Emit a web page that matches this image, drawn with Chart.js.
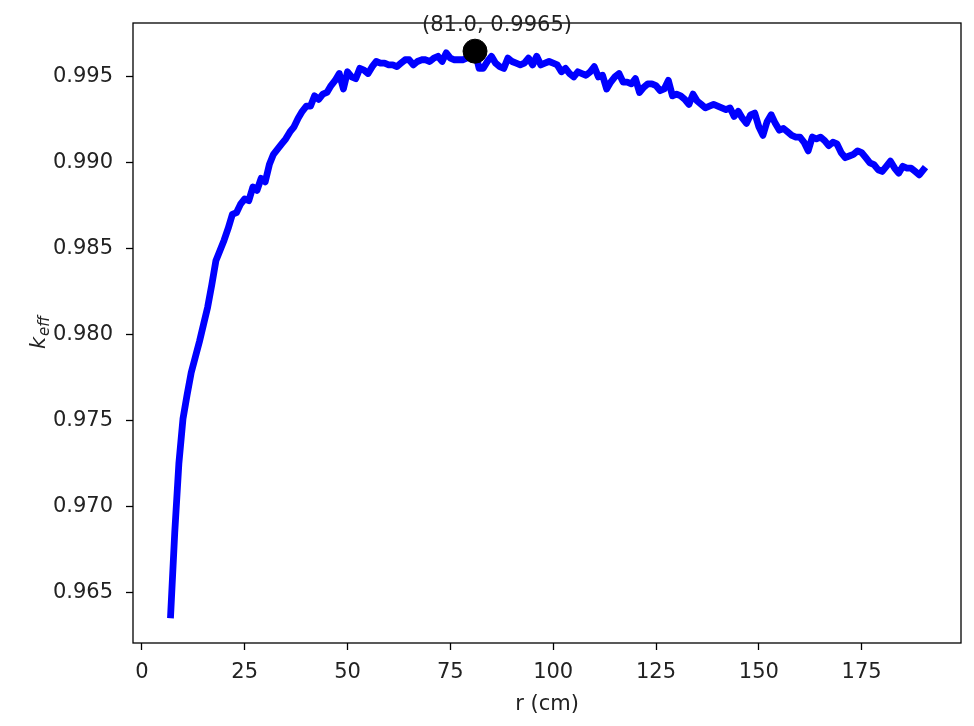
<!DOCTYPE html>
<html>
<head>
<meta charset="utf-8">
<script src="https://cdn.jsdelivr.net/npm/chart.js@4.4.1/dist/chart.umd.min.js"></script>
<style>
  html, body { margin: 0; padding: 0; background: #fff; }
  canvas { display: block; }
</style>
</head>
<body>
<canvas id="keffChart" width="974" height="726"></canvas>
<script>
// radius (cm) and k_eff values
const rValues = [
  7, 8, 9, 10, 11, 12, 13, 14, 15, 16, 17, 18, 19, 20, 21, 22, 23, 24, 25, 26,
  27, 28, 29, 30, 31, 32, 33, 34, 35, 36, 37, 38, 39, 40, 41, 42, 43, 44, 45, 46,
  47, 48, 49, 50, 51, 52, 53, 54, 55, 56, 57, 58, 59, 60, 61, 62, 63, 64, 65, 66,
  67, 68, 69, 70, 71, 72, 73, 74, 75, 76, 77, 78, 79, 80, 81, 82, 83, 84, 85, 86,
  87, 88, 89, 90, 91, 92, 93, 94, 95, 96, 97, 98, 99, 100, 101, 102, 103, 104, 105, 106,
  107, 108, 109, 110, 111, 112, 113, 114, 115, 116, 117, 118, 119, 120, 121, 122, 123, 124, 125, 126,
  127, 128, 129, 130, 131, 132, 133, 134, 135, 136, 137, 138, 139, 140, 141, 142, 143, 144, 145, 146,
  147, 148, 149, 150, 151, 152, 153, 154, 155, 156, 157, 158, 159, 160, 161, 162, 163, 164, 165, 166,
  167, 168, 169, 170, 171, 172, 173, 174, 175, 176, 177, 178, 179, 180, 181, 182, 183, 184, 185, 186,
  187, 188, 189, 190
];
const keffValues = [
  0.9637, 0.9685, 0.9725, 0.9751, 0.9765, 0.9778, 0.9787, 0.9796, 0.9806, 0.9816,
  0.9829, 0.9843, 0.9849, 0.9855, 0.9862, 0.9870, 0.9871, 0.9876, 0.9879, 0.9878,
  0.9886, 0.9884, 0.9891, 0.9889, 0.9899, 0.9905, 0.9908, 0.9911, 0.9914, 0.9918,
  0.9921, 0.9926, 0.9930, 0.9933, 0.9933, 0.9939, 0.9937, 0.9940, 0.9941, 0.9945,
  0.9948, 0.9952, 0.9943, 0.9953, 0.9950, 0.9949, 0.9955, 0.9954, 0.9952, 0.9956,
  0.9959, 0.9958, 0.9958, 0.9957, 0.9957, 0.9956, 0.9958, 0.9960, 0.9960, 0.9957,
  0.9959, 0.9960, 0.9960, 0.9959, 0.9961, 0.9962, 0.9959, 0.9964, 0.9961, 0.9960,
  0.9960, 0.9960, 0.9961, 0.9962, 0.9965, 0.9955, 0.9955, 0.9959, 0.9962, 0.9958,
  0.9956, 0.9955, 0.9961, 0.9959, 0.9958, 0.9957, 0.9958, 0.9961, 0.9957, 0.9962,
  0.9957, 0.9958, 0.9959, 0.9958, 0.9957, 0.9953, 0.9955, 0.9952, 0.9950, 0.9953,
  0.9952, 0.9951, 0.9953, 0.9956, 0.9950, 0.9951, 0.9943, 0.9947, 0.9950, 0.9952,
  0.9947, 0.9947, 0.9946, 0.9949, 0.9941, 0.9944, 0.9946, 0.9946, 0.9945, 0.9942,
  0.9943, 0.9948, 0.9939, 0.9940, 0.9939, 0.9937, 0.9934, 0.9940, 0.9936, 0.9934,
  0.9932, 0.9933, 0.9934, 0.9933, 0.9932, 0.9931, 0.9932, 0.9927, 0.9930, 0.9926,
  0.9923, 0.9928, 0.9929, 0.9921, 0.9916, 0.9924, 0.9928, 0.9923, 0.9919, 0.9920,
  0.9918, 0.9916, 0.9915, 0.9915, 0.9912, 0.9907, 0.9915, 0.9914, 0.9915, 0.9913,
  0.9910, 0.9912, 0.9911, 0.9906, 0.9903, 0.9904, 0.9905, 0.9907, 0.9906, 0.9903,
  0.9900, 0.9899, 0.9896, 0.9895, 0.9898, 0.9901, 0.9897, 0.9894, 0.9898, 0.9897,
  0.9897, 0.9895, 0.9893, 0.9896
];
const xTicks = [0, 25, 50, 75, 100, 125, 150, 175];
const yTicks = [0.965, 0.970, 0.975, 0.980, 0.985, 0.990, 0.995];

const FONT = "'DejaVu Sans', sans-serif";

// 找最大值（標記點）
let peakIdx = 0;
keffValues.forEach((v, i) => { if (v > keffValues[peakIdx]) peakIdx = i; });
const peakR = rValues[peakIdx];
const peakK = keffValues[peakIdx];

// matplotlib 式 5% 邊界
const rMin = Math.min(...rValues), rMax = Math.max(...rValues);
const kMin = Math.min(...keffValues), kMax = Math.max(...keffValues);
const rPad = (rMax - rMin) * 0.05, kPad = (kMax - kMin) * 0.05;

const framePlugin = {
  id: 'frame',
  afterDraw(chart) {
    const { ctx, chartArea: a, scales } = chart;
    ctx.save();
    ctx.strokeStyle = '#000';
    ctx.lineWidth = 1.3;
    ctx.strokeRect(a.left, a.top, a.right - a.left, a.bottom - a.top);

    // annotation text
    const px = scales.x.getPixelForValue(peakR);
    const py = scales.y.getPixelForValue(peakK);
    ctx.fillStyle = '#222';
    ctx.font = '21px ' + FONT;
    ctx.textAlign = 'center';
    ctx.textBaseline = 'alphabetic';
    ctx.fillText('(' + peakR.toFixed(1) + ', ' + peakK.toFixed(4) + ')', px + 22, py - 20);

    // y label k_eff
    ctx.translate(38, (a.top + a.bottom) / 2);
    ctx.rotate(-Math.PI / 2);
    ctx.textAlign = 'left';
    ctx.font = 'italic 21px ' + FONT;
    const kW = ctx.measureText('k').width;
    ctx.font = 'italic 15px ' + FONT;
    const eW = ctx.measureText('eff').width;
    const start = -(kW + eW) / 2;
    ctx.font = 'italic 21px ' + FONT;
    ctx.fillText('k', start, 7);
    ctx.font = 'italic 15px ' + FONT;
    ctx.fillText('eff', start + kW + 1, 11);
    ctx.restore();
  }
};

const ctx = document.getElementById('keffChart').getContext('2d');
new Chart(ctx, {
  type: 'line',
  data: {
    datasets: [
      {
        label: 'peak',
        data: [{ x: peakR, y: peakK }],
        showLine: false,
        pointRadius: 12,
        pointBackgroundColor: '#000',
        pointBorderColor: '#000',
        order: 0
      },
      {
        label: 'k_eff',
        data: rValues.map((r, i) => ({ x: r, y: keffValues[i] })),
        borderColor: '#0000ff',
        borderWidth: 6.8,
        borderCapStyle: 'square',
        borderJoinStyle: 'round',
        pointRadius: 0,
        tension: 0,
        fill: false,
        order: 1
      }
    ]
  },
  options: {
    responsive: false,
    animation: false,
    layout: { padding: { top: 23, right: 10, bottom: 0, left: 0 } },
    plugins: {
      legend: { display: false },
      tooltip: { enabled: false }
    },
    scales: {
      x: {
        type: 'linear',
        min: rMin - rPad,
        max: rMax + rPad,
        afterBuildTicks: s => { s.ticks = xTicks.map(v => ({ value: v })); },
        afterFit: s => { s.height = 83; s.paddingLeft = 0; s.paddingRight = 0; },
        grid: { drawOnChartArea: false, tickLength: 7, tickColor: '#000', tickWidth: 1.3 },
        border: { display: false },
        ticks: {
          color: '#222',
          font: { family: FONT, size: 21 },
          padding: 10,
          maxRotation: 0,
          callback: v => String(v)
        },
        title: {
          display: true,
          text: 'r (cm)',
          color: '#222',
          font: { family: FONT, size: 21 },
          padding: { top: 2, bottom: 9 }
        }
      },
      y: {
        type: 'linear',
        min: kMin - kPad,
        max: kMax + kPad,
        afterBuildTicks: s => { s.ticks = yTicks.map(v => ({ value: v })); },
        afterFit: s => { s.width = 133; s.paddingTop = 0; s.paddingBottom = 0; },
        grid: { drawOnChartArea: false, tickLength: 7, tickColor: '#000', tickWidth: 1.3 },
        border: { display: false },
        ticks: {
          color: '#222',
          font: { family: FONT, size: 21 },
          padding: 13,
          callback: v => v.toFixed(3)
        }
      }
    }
  },
  plugins: [framePlugin]
});
</script>
</body>
</html>
